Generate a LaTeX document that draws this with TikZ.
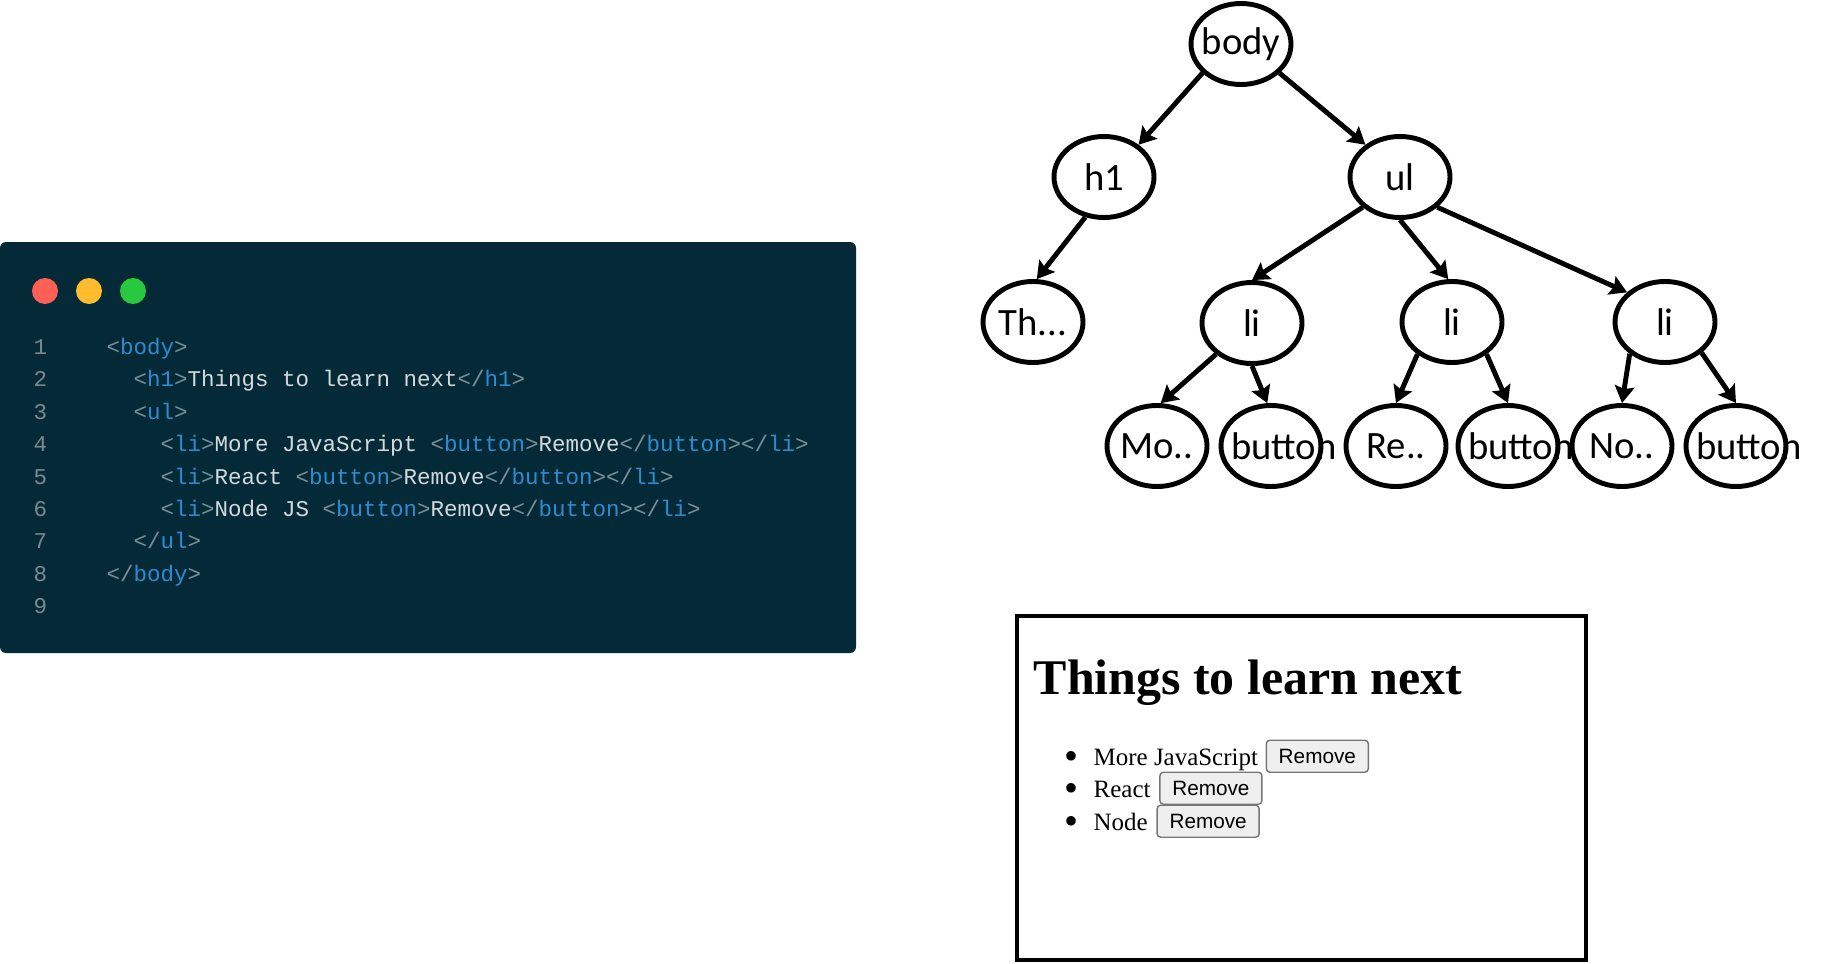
\documentclass[tikz,border=0pt]{standalone}
\usepackage{fontspec}
\usetikzlibrary{positioning,shapes.geometric,arrows.meta}

\newfontfamily\codefont{Liberation Mono}
\newfontfamily\treefont{Carlito}
\newfontfamily\pagefont{Liberation Serif}
\newfontfamily\btnfont{Liberation Sans}

\definecolor{panelbg}{HTML}{052A37}
\definecolor{codetext}{HTML}{D3D9DB}
\definecolor{codenum}{HTML}{7A8A90}
\definecolor{codepunct}{HTML}{7A9099}
\definecolor{codetag}{HTML}{2E8BCF}
\definecolor{dotred}{HTML}{FF5F56}
\definecolor{dotyellow}{HTML}{FFBD2E}
\definecolor{dotgreen}{HTML}{27C93F}
\definecolor{btnfill}{HTML}{EFEFEF}
\definecolor{btnline}{HTML}{767676}

\newcommand\opentag[1]{\textcolor{codepunct}{<}\textcolor{codetag}{#1}\textcolor{codepunct}{>}}
\newcommand\closetag[1]{\textcolor{codepunct}{</}\textcolor{codetag}{#1}\textcolor{codepunct}{>}}
\newcommand\fixw[1]{\makebox[0pt]{#1}}
\newcommand\bigdot{\llap{\raisebox{-0.045cm}{\scalebox{1.6}{\textbullet}}\hspace{0.15cm}}}

\tikzset{
  dom/.style={ellipse, draw, line width=1.4pt, minimum width=1cm, minimum height=0.81cm, inner sep=0pt, font=\treefont\fontsize{11}{13}\selectfont},
  link/.style={line width=1.4pt, -{Stealth[length=4.8pt,width=5.6pt,inset=0.8pt]}},
  codeline/.style={anchor=base west, inner sep=0pt, text=codetext, font=\codefont\fontsize{6.4}{8}\selectfont},
  lineno/.style={codeline, text=codenum},
  listitem/.style={anchor=base west, inner sep=0pt, text height=0.7em, text depth=0.2em, font=\pagefont\fontsize{7.1}{8.5}\selectfont},
  removebtn/.style={draw=btnline, fill=btnfill, rounded corners=1pt, line width=0.4pt, minimum width=1.02cm, minimum height=0.32cm, inner sep=0pt, font=\btnfont\fontsize{5.9}{7}\selectfont}
}

\begin{document}
\begin{tikzpicture}

\useasboundingbox (0,0) rectangle (18.21,9.63);

% code window
\fill[panelbg, rounded corners=0.06cm] (0,3.10) rectangle (8.56,7.21);
\fill[dotred] (0.45,6.72) circle (0.13);
\fill[dotyellow] (0.89,6.72) circle (0.13);
\fill[dotgreen] (1.33,6.72) circle (0.13);

\node[lineno] (n1) at (0.33,6.09) {1};
\node[lineno] (n2) at (0.33,5.77) {2};
\node[lineno] (n3) at (0.33,5.44) {3};
\node[lineno] (n4) at (0.33,5.12) {4};
\node[lineno] (n5) at (0.33,4.79) {5};
\node[lineno] (n6) at (0.33,4.47) {6};
\node[lineno] (n7) at (0.33,4.15) {7};
\node[lineno] (n8) at (0.33,3.82) {8};
\node[lineno] (n9) at (0.33,3.50) {9};

\node[codeline] (l1) at (1.06,6.09) {\opentag{body}};
\node[codeline] (l2) at (1.33,5.77) {\opentag{h1}Things to learn next\closetag{h1}};
\node[codeline] (l3) at (1.33,5.44) {\opentag{ul}};
\node[codeline] (l4) at (1.60,5.12) {\opentag{li}More JavaScript \opentag{button}Remove\closetag{button}\closetag{li}};
\node[codeline] (l5) at (1.60,4.79) {\opentag{li}React \opentag{button}Remove\closetag{button}\closetag{li}};
\node[codeline] (l6) at (1.60,4.47) {\opentag{li}Node JS \opentag{button}Remove\closetag{button}\closetag{li}};
\node[codeline] (l7) at (1.33,4.15) {\closetag{ul}};
\node[codeline] (l8) at (1.06,3.82) {\closetag{body}};

% DOM tree
\node[dom] (body) at (12.41,9.19) {\fixw{body}};
\node[dom] (h1) at (11.04,7.86) {\fixw{h1}};
\node[dom] (ul) at (14.00,7.86) {\fixw{ul}};
\node[dom] (th) at (10.33,6.41) {\fixw{Th...}};
\node[dom] (li1) at (12.52,6.40) {\fixw{li}};
\node[dom] (li2) at (14.52,6.41) {\fixw{li}};
\node[dom] (li3) at (16.65,6.41) {\fixw{li}};
\node[dom] (mo) at (11.57,5.17) {\fixw{Mo..}};
\node[dom] (btn1) at (12.71,5.17) {\makebox[0pt][l]{\hspace{-0.40cm}button}};
\node[dom] (re) at (13.96,5.17) {\fixw{Re..}};
\node[dom] (btn2) at (15.08,5.17) {\makebox[0pt][l]{\hspace{-0.40cm}button}};
\node[dom] (no) at (16.22,5.17) {\fixw{No..}};
\node[dom] (btn3) at (17.36,5.17) {\makebox[0pt][l]{\hspace{-0.40cm}button}};

\draw[link] (body.217) -- (h1.43);
\draw[link] (body.323) -- (ul.137);
\draw[link] (h1.245) -- (th.85);
\draw[link] (ul.219) -- (li1.north);
\draw[link] (ul.south) -- (li2.95);
\draw[link] (ul.321) -- (li3.142);
\draw[link] (li1.221) -- (mo.85);
\draw[link] (li1.south) -- (btn1.95);
\draw[link] (li2.223) -- (re.north);
\draw[link] (li2.317) -- (btn2.north);
\draw[link] (li3.222) -- (no.north);
\draw[link] (li3.320) -- (btn3.north);

% rendered page
\draw[line width=1.2pt] (10.17,0.03) rectangle (15.86,3.47);
\node[anchor=base west, inner sep=0pt, font=\pagefont\bfseries\fontsize{14.2}{17}\selectfont] (title) at (10.33,2.69) {Things to learn next};

\node[listitem] (item1) at (10.93,1.98) {\bigdot More JavaScript};
\node[listitem] (item2) at (10.93,1.66) {\bigdot React};
\node[listitem] (item3) at (10.93,1.33) {\bigdot Node};
\node[removebtn, right=0.07cm of item1] (rm1) {Remove};
\node[removebtn, right=0.08cm of item2] (rm2) {Remove};
\node[removebtn, right=0.08cm of item3] (rm3) {Remove};

\end{tikzpicture}
\end{document}
